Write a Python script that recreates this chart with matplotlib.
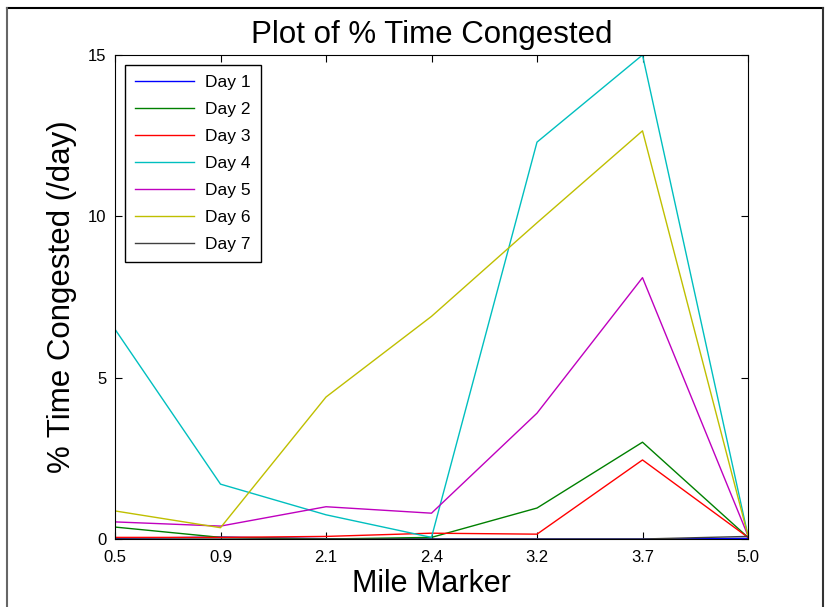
import numpy as np
import matplotlib.pyplot as plt
from matplotlib.lines import Line2D

plt.rcParams['font.family'] = ['Liberation Sans', 'DejaVu Sans']

# mile markers (plotted at equal spacing)
mile_labels = ['0.5', '0.9', '2.1', '2.4', '3.2', '3.7', '5.0']

day1 = [0.02, 0.06, 0.01, 0.0, 0.0, 0.0, 0.02]
day2 = [0.37, 0.05, 0.0, 0.05, 0.96, 3.0, 0.05]
day3 = [0.05, 0.05, 0.08, 0.18, 0.15, 2.45, 0.05]
day4 = [6.5, 1.7, 0.75, 0.05, 12.3, 15.0, 0.1]
day5 = [0.53, 0.4, 1.0, 0.8, 3.9, 8.1, 0.1]
day6 = [0.87, 0.35, 4.4, 6.9, 9.8, 12.65, 0.1]
day7 = [0.0, 0.0, 0.0, 0.0, 0.0, 0.0, 0.08]

series = [day1, day2, day3, day4, day5, day6, day7]
names = ['Day 1', 'Day 2', 'Day 3', 'Day 4', 'Day 5', 'Day 6', 'Day 7']
colors = [(0, 0, 1), (0, 0.5, 0), (1, 0, 0), (0, 0.75, 0.75),
          (0.75, 0, 0.75), (0.75, 0.75, 0), (0.25, 0.25, 0.25)]

W, H = 825, 607
fig = plt.figure(figsize=(W / 100, H / 100), dpi=100)

# screenshot frame (top, left, right)
fig.add_artist(Line2D([7 / W, 823 / W], [1 - 8 / H, 1 - 8 / H], color='black', lw=1.5))
fig.add_artist(Line2D([7 / W, 7 / W], [0, 1 - 8 / H], color='#666666', lw=1.5))
fig.add_artist(Line2D([823 / W, 823 / W], [0, 1 - 8 / H], color='#333333', lw=1.5))

ax = fig.add_axes([115 / W, 1 - 539 / H, (748 - 115) / W, (539 - 55) / H])

x = np.arange(len(mile_labels))
for vals, name, c in zip(series, names, colors):
    ax.plot(x, vals, color=c, lw=1, label=name)

ax.set_xlim(0, len(mile_labels) - 1)
ax.set_ylim(0, 15)
ax.set_xticks(x)
ax.set_xticklabels(mile_labels)
ax.set_yticks([0, 5, 10, 15])
ax.tick_params(direction='in', top=True, right=True, labelsize=12, length=5)
ax.tick_params(axis='x', pad=8)
ax.tick_params(axis='y', pad=6)

ax.set_title('Plot of % Time Congested', fontsize=22.5, pad=9)
ax.set_xlabel('Mile Marker', fontsize=22, labelpad=3)
ax.set_ylabel('% Time Congested (/day)', fontsize=22.5, labelpad=8)

leg = ax.legend(loc='upper left', fontsize=12.5, fancybox=False, framealpha=1,
                edgecolor='black', handlelength=3.4, handletextpad=0.65,
                borderaxespad=0.55, borderpad=0.6, labelspacing=0.68)
leg.get_frame().set_linewidth(1)

fig.savefig('out.png', dpi=100)
